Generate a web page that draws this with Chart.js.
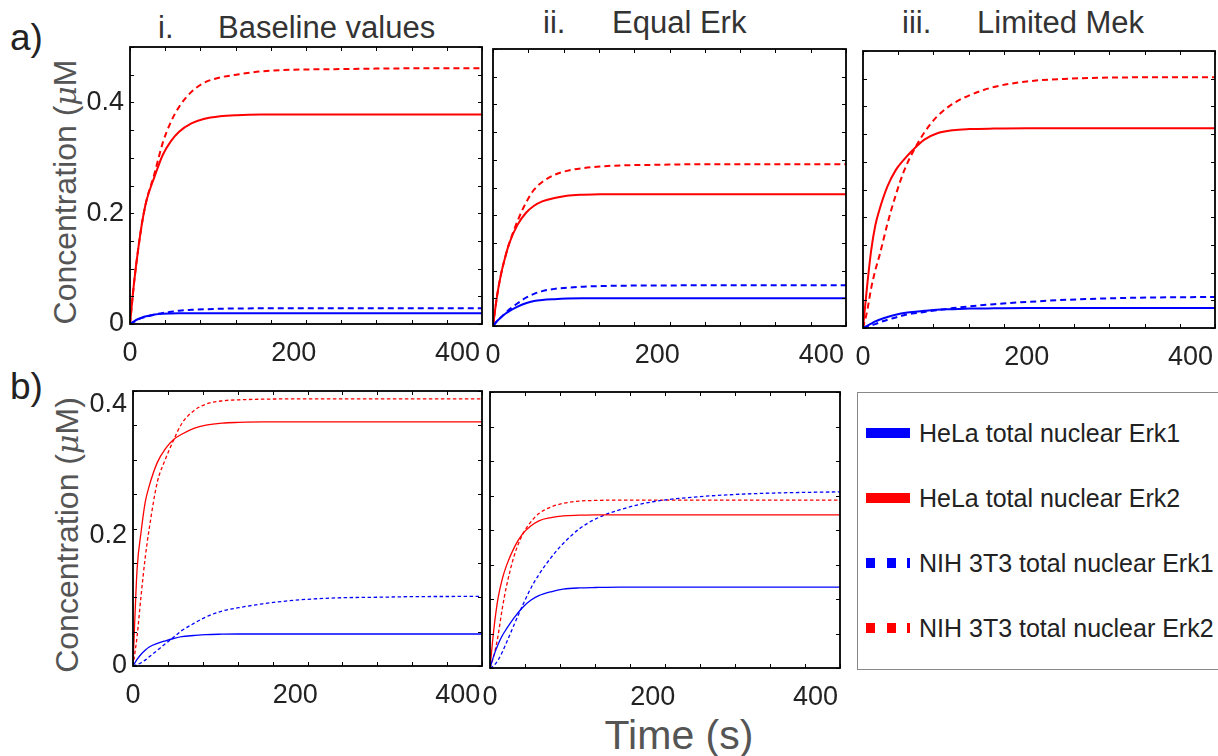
<!DOCTYPE html>
<html>
<head>
<meta charset="utf-8">
<script src="https://cdn.jsdelivr.net/npm/chart.js@4.4.0/dist/chart.umd.min.js"></script>
<style>
  body { margin: 0; background: #fff; width: 1218px; height: 756px; overflow: hidden; position: relative;
         font-family: "Liberation Sans", Arial, sans-serif; }
  canvas { position: absolute; }
  .txt { position: absolute; white-space: nowrap; line-height: 1; }
  .title { font-size: 31px; color: #333; }
  .ylab { font-size: 32px; color: #555; transform: translate(-50%, -50%) rotate(-90deg); }
  .ylab i { font-family: "DejaVu Serif", serif; font-size: 30px; }
  .legbox { position: absolute; left: 857px; top: 392px; width: 380px; height: 276px; border: 1px solid #888; }
  .sample { position: absolute; left: 866px; width: 44px; height: 10px; }
  .legtxt { position: absolute; left: 919px; font-size: 25px; color: #222; line-height: 1; white-space: nowrap; }
</style>
</head>
<body>

<div class="txt" style="left:10px;top:19px;font-size:37px;color:#222">a)</div>
<div class="txt" style="left:10px;top:368px;font-size:37px;color:#222">b)</div>

<div class="txt title" style="left:158px;top:12px">i.</div>
<div class="txt title" style="left:218px;top:12px">Baseline values</div>
<div class="txt title" style="left:543px;top:7px">ii.</div>
<div class="txt title" style="left:612px;top:7px">Equal Erk</div>
<div class="txt title" style="left:902px;top:7px">iii.</div>
<div class="txt title" style="left:977px;top:7px">Limited Mek</div>

<div class="txt ylab" style="left:65px;top:192px">Concentration (<i>μ</i>M</div>
<div class="txt ylab" style="left:67px;top:535px">Concentration (<i>μ</i>M)</div>
<div class="txt" style="left:679px;top:735px;font-size:41px;color:#555;transform:translate(-50%,-50%)">Time (s)</div>

<canvas id="aBase"></canvas>
<canvas id="aEqual"></canvas>
<canvas id="aMek"></canvas>
<canvas id="bBase"></canvas>
<canvas id="bEqual"></canvas>

<div class="legbox"></div>
<div class="sample" style="top:428px;background:#0000ff"></div>
<div class="legtxt" style="top:421px">HeLa total nuclear Erk1</div>
<div class="sample" style="top:493px;background:#ff0000"></div>
<div class="legtxt" style="top:486px">HeLa total nuclear Erk2</div>
<div class="sample" style="top:558px;background:repeating-linear-gradient(90deg,#0000ff 0 9px,transparent 9px 20.5px)"></div>
<div class="legtxt" style="top:551px">NIH 3T3 total nuclear Erk1</div>
<div class="sample" style="top:623px;background:repeating-linear-gradient(90deg,#ff0000 0 9px,transparent 9px 20.5px)"></div>
<div class="legtxt" style="top:616px">NIH 3T3 total nuclear Erk2</div>

<script>
// time points (s) shared by every curve
const timeS = [0, 5, 10, 15, 20, 30, 40, 50, 60, 75, 90, 110, 130, 160, 200, 250, 300, 350, 400, 430];
const xTickLabels = [0, 200, 400];
const yTickLabels = [0, 0.2, 0.4];

// a) i. Baseline values
const aBaseHelaErk1 = [0, 0.005, 0.009, 0.012, 0.014, 0.017, 0.0185, 0.019, 0.0192, 0.0193, 0.0193, 0.0193, 0.0193, 0.0193, 0.0193, 0.0193, 0.0193, 0.0193, 0.0193, 0.0193];
const aBaseHelaErk2 = [0, 0.075, 0.135, 0.185, 0.222, 0.266, 0.305, 0.330, 0.347, 0.362, 0.370, 0.375, 0.377, 0.378, 0.378, 0.378, 0.378, 0.378, 0.378, 0.378];
const aBaseNihErk1 = [0, 0.004, 0.008, 0.011, 0.013, 0.017, 0.020, 0.022, 0.024, 0.0255, 0.0265, 0.0275, 0.028, 0.0283, 0.0285, 0.0285, 0.0285, 0.0285, 0.0285, 0.0285];
const aBaseNihErk2 = [0, 0.075, 0.135, 0.185, 0.222, 0.272, 0.327, 0.365, 0.392, 0.419, 0.435, 0.445, 0.450, 0.456, 0.459, 0.460, 0.461, 0.4615, 0.4615, 0.4615];

// a) ii. Equal Erk
const aEqualHelaErk1 = [0, 0.009, 0.016, 0.022, 0.027, 0.035, 0.041, 0.045, 0.047, 0.0485, 0.0495, 0.050, 0.050, 0.050, 0.050, 0.050, 0.050, 0.050, 0.050, 0.050];
const aEqualHelaErk2 = [0, 0.055, 0.095, 0.125, 0.150, 0.183, 0.204, 0.217, 0.225, 0.231, 0.235, 0.237, 0.238, 0.238, 0.238, 0.238, 0.238, 0.238, 0.238, 0.238];
const aEqualNihErk1 = [0, 0.009, 0.016, 0.023, 0.030, 0.041, 0.051, 0.058, 0.063, 0.067, 0.069, 0.071, 0.072, 0.0728, 0.073, 0.0735, 0.0735, 0.0735, 0.0735, 0.0735];
const aEqualNihErk2 = [0, 0.055, 0.095, 0.125, 0.150, 0.190, 0.222, 0.246, 0.260, 0.273, 0.280, 0.285, 0.288, 0.290, 0.291, 0.292, 0.292, 0.292, 0.292, 0.292];

// a) iii. Limited Mek
const aMekHelaErk1 = [0, 0.004, 0.008, 0.012, 0.015, 0.020, 0.024, 0.027, 0.029, 0.031, 0.033, 0.034, 0.035, 0.0355, 0.036, 0.036, 0.036, 0.036, 0.036, 0.036];
const aMekHelaErk2 = [0, 0.075, 0.140, 0.185, 0.213, 0.256, 0.285, 0.304, 0.320, 0.340, 0.351, 0.357, 0.359, 0.360, 0.3606, 0.3606, 0.3606, 0.3606, 0.3606, 0.3606];
const aMekNihErk1 = [0, 0.002, 0.005, 0.007, 0.010, 0.015, 0.019, 0.023, 0.026, 0.029, 0.032, 0.036, 0.039, 0.043, 0.047, 0.051, 0.0535, 0.055, 0.0557, 0.056];
const aMekNihErk2 = [0, 0.030, 0.072, 0.104, 0.130, 0.189, 0.240, 0.283, 0.315, 0.353, 0.381, 0.405, 0.420, 0.435, 0.445, 0.450, 0.452, 0.4525, 0.4526, 0.4526];

// b) baseline
const bBaseHelaErk1 = [0, 0.010, 0.018, 0.024, 0.029, 0.0345, 0.0385, 0.042, 0.0448, 0.0466, 0.048, 0.0486, 0.0489, 0.0489, 0.0489, 0.0489, 0.0489, 0.0489, 0.0489, 0.0489];
const bBaseHelaErk2 = [0, 0.147, 0.205, 0.250, 0.275, 0.311, 0.332, 0.346, 0.354, 0.363, 0.368, 0.371, 0.372, 0.3727, 0.3727, 0.3727, 0.3727, 0.3727, 0.3727, 0.3727];
const bBaseNihErk1 = [0, 0.002, 0.005, 0.009, 0.014, 0.024, 0.034, 0.044, 0.054, 0.065, 0.075, 0.084, 0.089, 0.095, 0.1005, 0.104, 0.105, 0.106, 0.1062, 0.1063];
const bBaseNihErk2 = [0, 0.045, 0.108, 0.165, 0.210, 0.281, 0.316, 0.345, 0.370, 0.390, 0.400, 0.405, 0.4065, 0.4075, 0.408, 0.408, 0.408, 0.408, 0.408, 0.408];

// b) equal Erk
const bEqualHelaErk1 = [0, 0.020, 0.036, 0.049, 0.059, 0.077, 0.092, 0.103, 0.110, 0.116, 0.120, 0.1219, 0.1225, 0.123, 0.123, 0.123, 0.123, 0.123, 0.123, 0.123];
const bEqualHelaErk2 = [0, 0.062, 0.107, 0.135, 0.155, 0.184, 0.204, 0.216, 0.224, 0.229, 0.2316, 0.2325, 0.233, 0.233, 0.233, 0.233, 0.233, 0.233, 0.233, 0.233];
const bEqualNihErk1 = [0, 0.004, 0.012, 0.024, 0.038, 0.067, 0.095, 0.121, 0.142, 0.168, 0.1895, 0.212, 0.227, 0.241, 0.253, 0.260, 0.264, 0.2663, 0.2675, 0.268];
const bEqualNihErk2 = [0, 0.020, 0.050, 0.090, 0.123, 0.172, 0.203, 0.222, 0.235, 0.245, 0.2505, 0.254, 0.255, 0.2555, 0.2555, 0.2555, 0.2555, 0.2555, 0.2555, 0.2555];

// inward tick marks + black box, like the matlab axes
const frame = {
  id: 'frame',
  afterDatasetsDraw(chart, args, o) {
    const { ctx, chartArea: a, scales: { x, y } } = chart;
    ctx.save();
    ctx.strokeStyle = '#000';
    ctx.lineWidth = 1;
    ctx.beginPath();
    o.xMarks.forEach(v => {
      const p = Math.round(x.getPixelForValue(v)) + 0.5;
      ctx.moveTo(p, a.bottom); ctx.lineTo(p, a.bottom - 4);
      ctx.moveTo(p, a.top); ctx.lineTo(p, a.top + 4);
    });
    o.yMarks.forEach(v => {
      const p = Math.round(y.getPixelForValue(v)) + 0.5;
      ctx.moveTo(a.left, p); ctx.lineTo(a.left + 4, p);
      ctx.moveTo(a.right, p); ctx.lineTo(a.right - 4, p);
    });
    ctx.stroke();
    ctx.lineWidth = 1.8;
    ctx.strokeRect(a.left, a.top, a.right - a.left, a.bottom - a.top);
    ctx.restore();
  }
};

const xMax = 430;
const xMarks = Array.from({ length: 11 }, (_, i) => i * xMax / 10);

function line(vals, color, dash, width) {
  return {
    data: timeS.map((t, i) => ({ x: t, y: vals[i] })),
    borderColor: color,
    borderWidth: width,
    borderDash: dash,
    pointRadius: 0,
    fill: false,
    cubicInterpolationMode: 'monotone'
  };
}

const tickFont = { family: 'Liberation Sans', size: 27 };

function panel(id, box, yMax, ySteps, showY, series, width, dash) {
  const cv = document.getElementById(id);
  const w = box.r - box.l, h = box.b - box.t;
  cv.width = w + 68;
  cv.height = h + 58;
  cv.style.left = (box.l - 60) + 'px';
  cv.style.top = (box.t - 8) + 'px';
  const yMarks = Array.from({ length: ySteps + 1 }, (_, i) => i * yMax / ySteps);
  new Chart(cv, {
    type: 'line',
    data: {
      datasets: [
        line(series[0], '#0000ff', [], width),
        line(series[1], '#ff0000', [], width),
        line(series[2], '#0000ff', dash, width),
        line(series[3], '#ff0000', dash, width)
      ]
    },
    options: {
      responsive: false,
      animation: false,
      layout: { padding: { left: 0, right: 8, top: 8, bottom: 0 } },
      plugins: { legend: { display: false }, tooltip: { enabled: false }, frame: { xMarks, yMarks } },
      scales: {
        x: {
          type: 'linear', min: 0, max: xMax,
          grid: { display: false, drawTicks: false },
          border: { display: false },
          afterBuildTicks: s => { s.ticks = xTickLabels.map(v => ({ value: v })); },
          afterFit: s => { s.height = 50; s.paddingLeft = 0; s.paddingRight = 0; },
          ticks: { autoSkip: false, maxRotation: 0, padding: 13, color: '#222', font: tickFont }
        },
        y: {
          min: 0, max: yMax,
          grid: { display: false, drawTicks: false },
          border: { display: false },
          afterBuildTicks: s => { s.ticks = yTickLabels.map(v => ({ value: v })); },
          afterFit: s => { s.width = 60; s.paddingTop = 0; s.paddingBottom = 0; },
          ticks: { display: showY, padding: 6, color: '#222', font: tickFont }
        }
      }
    },
    plugins: [frame]
  });
}

panel('aBase', { l: 130, t: 47, r: 482, b: 324 }, 0.5, 10, true,
  [aBaseHelaErk1, aBaseHelaErk2, aBaseNihErk1, aBaseNihErk2], 2, [6, 4]);
panel('aEqual', { l: 493, t: 49, r: 846, b: 326 }, 0.5, 10, false,
  [aEqualHelaErk1, aEqualHelaErk2, aEqualNihErk1, aEqualNihErk2], 2, [6, 4]);
panel('aMek', { l: 863, t: 51, r: 1215, b: 328 }, 0.5, 10, false,
  [aMekHelaErk1, aMekHelaErk2, aMekNihErk1, aMekNihErk2], 2, [6, 4]);
panel('bBase', { l: 133, t: 391, r: 482, b: 666 }, 0.42, 8, true,
  [bBaseHelaErk1, bBaseHelaErk2, bBaseNihErk1, bBaseNihErk2], 1.3, [3.5, 2.5]);
panel('bEqual', { l: 490, t: 392, r: 840, b: 668 }, 0.42, 8, false,
  [bEqualHelaErk1, bEqualHelaErk2, bEqualNihErk1, bEqualNihErk2], 1.3, [3.5, 2.5]);
</script>
</body>
</html>
